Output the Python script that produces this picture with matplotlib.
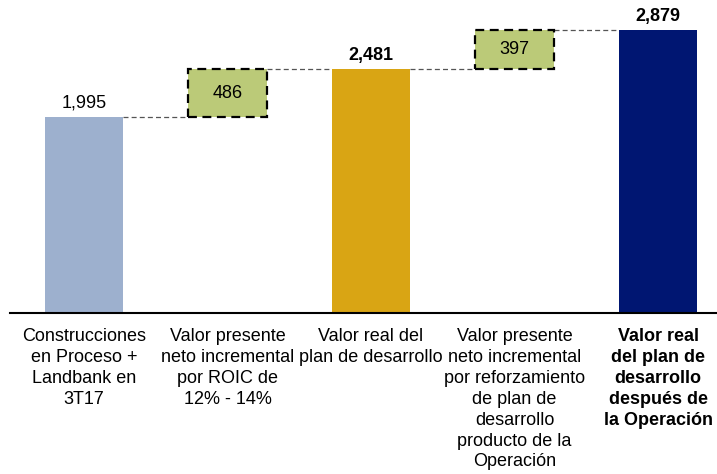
import matplotlib.pyplot as plt
from matplotlib.transforms import blended_transform_factory

plt.rcParams['font.family'] = ['Liberation Sans', 'DejaVu Sans']

categories = [
    "Construcciones\nen Proceso +\nLandbank en\n3T17",
    "Valor presente\nneto incremental\npor ROIC de\n12% - 14%",
    "Valor real del\nplan de desarrollo",
    "Valor presente\nneto incremental\npor reforzamiento\nde plan de\ndesarrollo\nproducto de la\nOperación",
    "Valor real\ndel plan de\ndesarrollo\ndespués de\nla Operación",
]
values = [1995, 486, 2481, 397, 2879]
kinds = ["total", "delta", "total", "delta", "total"]
labels = ["1,995", "486", "2,481", "397", "2,879"]

total_colors = ["#9DB0CE", None, "#D9A514", None, "#001672"]
green = "#BBCA78"

fig = plt.figure(figsize=(7.17, 4.74), dpi=100)
ax = fig.add_axes([10 / 717, 1 - 313 / 474, 707 / 717, 313 / 474])

w = 0.545
running = 0
tops = []
for i, (v, k) in enumerate(zip(values, kinds)):
    if k == "total":
        ax.bar(i, v, width=w, color=total_colors[i], zorder=2)
        running = v
        top = v
        weight = "bold" if i > 0 else "normal"
        ax.text(i, v + 55, labels[i], ha="center", va="bottom", fontsize=13,
                fontweight=weight)
    else:
        ax.bar(i, v, bottom=running, width=w, color=green, edgecolor="black",
               linewidth=1.6, linestyle=(0, (4, 2.5)), zorder=2)
        ax.text(i, running + v / 2, labels[i], ha="center", va="center", fontsize=13)
        running += v
        top = running
    tops.append(top)

# lineas punteadas entre barras
for i in range(len(values) - 1):
    lvl = tops[i]
    ax.plot([i + w / 2, i + 1 - w / 2], [lvl, lvl], color="#555555", lw=0.9,
            linestyle=(0, (4, 2.5)), zorder=1)

ax.set_xlim(-0.515, 4.41)
ax.set_ylim(0, 2879 * 313 / 283)
for s in ["top", "right", "left"]:
    ax.spines[s].set_visible(False)
ax.spines["bottom"].set_linewidth(1.5)
ax.set_yticks([])
ax.set_xticks([])

trans = blended_transform_factory(ax.transData, ax.transAxes)
for i, c in enumerate(categories):
    ax.text(i, -15 / 313, c, transform=trans, ha="center", va="top", fontsize=13,
            linespacing=1.3, fontweight="bold" if i == 4 else "normal")

fig.savefig("out.png", dpi=100)
